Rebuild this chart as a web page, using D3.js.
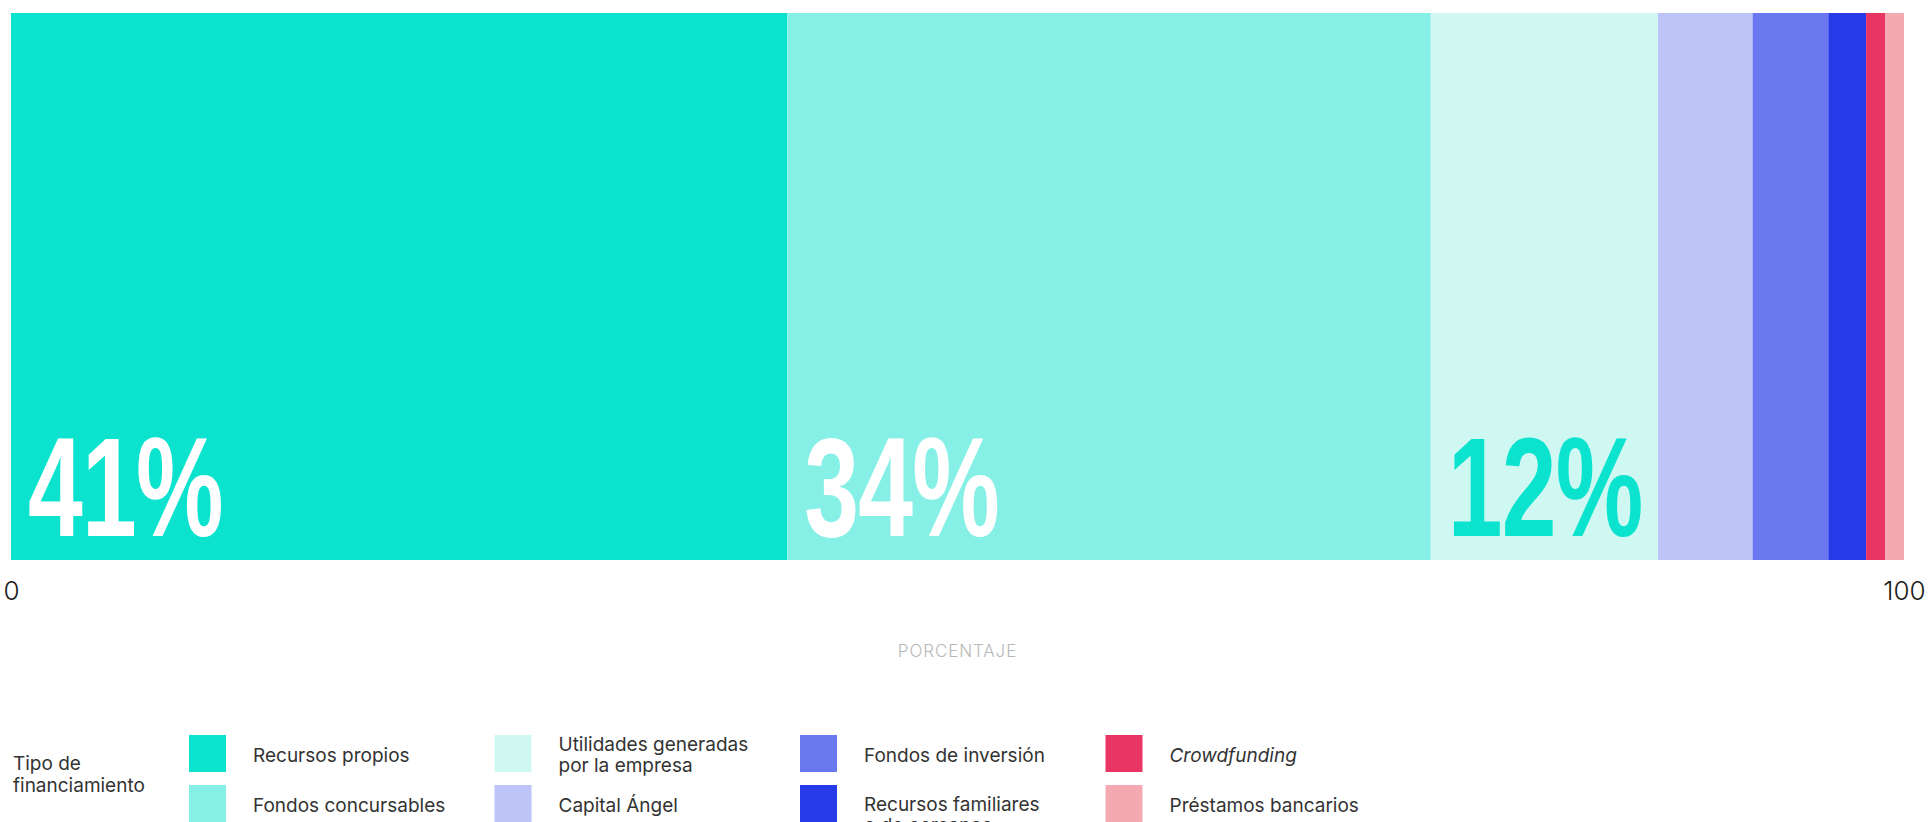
<!DOCTYPE html>
<html lang="es">
<head>
<meta charset="utf-8">
<title>Tipo de financiamiento</title>
<script src="https://cdn.jsdelivr.net/npm/d3@7"></script>
<style>
  html, body { margin: 0; padding: 0; background: #ffffff; overflow: hidden; }
  svg { display: block; }
</style>
</head>
<body>
<svg id="chart" width="1928" height="822"></svg>
<script>
// Financing sources, in stacking order
const categories = [
  "Recursos propios",
  "Fondos concursables",
  "Utilidades generadas por la empresa",
  "Capital Ángel",
  "Fondos de inversión",
  "Recursos familiares o de cercanos",
  "Crowdfunding",
  "Préstamos bancarios"
];
// Share of each source, in percent
const values = [41, 34, 12, 5, 4, 2, 1, 1];
// Legend text, broken into lines
const legendLines = [
  ["Recursos propios"],
  ["Fondos concursables"],
  ["Utilidades generadas", "por la empresa"],
  ["Capital Ángel"],
  ["Fondos de inversión"],
  ["Recursos familiares", "o de cercanos"],
  ["Crowdfunding"],
  ["Préstamos bancarios"]
];
const italicCategories = ["Crowdfunding"];
// Segments that carry a big percentage label
const labeledCategories = ["Recursos propios", "Fondos concursables", "Utilidades generadas por la empresa"];
const axisTicks = [0, 100];
const axisTitle = "PORCENTAJE";
const legendTitle = ["Tipo de", "financiamiento"];

const colors = ["#0be3cf", "#86f0e7", "#cff8f3", "#bfc4f8", "#6a78f0", "#263ae8", "#e83564", "#f4a8b2"];
const labelColors = { "Recursos propios": "#ffffff", "Fondos concursables": "#ffffff", "Utilidades generadas por la empresa": "#0be3cf" };

const svg = d3.select("#chart");
const bar = { left: 11, right: 1904, top: 13, bottom: 560 };

const x = d3.scaleLinear().domain([0, 100]).range([bar.left, bar.right]);
const color = d3.scaleOrdinal().domain(categories).range(colors);

// Cumulative stacking of the single bar
const stacked = d3.stack().keys(categories)([Object.fromEntries(categories.map((c, i) => [c, values[i]]))]);
const segments = stacked.map(s => ({ key: s.key, x0: s[0][0], x1: s[0][1], value: s[0][1] - s[0][0] }));

svg.append("g")
  .selectAll("rect")
  .data(segments)
  .join("rect")
  .attr("x", d => x(d.x0))
  .attr("y", bar.top)
  .attr("width", d => x(d.x1) - x(d.x0))
  .attr("height", bar.bottom - bar.top)
  .attr("fill", d => color(d.key));

// Big condensed percentage labels: the bold face is squeezed horizontally
// so that a two-digit label is about 195px wide.
const bigFont = "'Liberation Sans', Arial, sans-serif";
const bigSize = 141;
const probe = svg.append("text")
  .attr("font-family", bigFont).attr("font-weight", 700).attr("font-size", bigSize)
  .attr("letter-spacing", -1)
  .text("41%");
const squeeze = 195 / probe.node().getComputedTextLength();
probe.remove();

svg.append("g")
  .selectAll("text")
  .data(segments.filter(d => labeledCategories.includes(d.key)))
  .join("text")
  .attr("transform", d => `translate(${x(d.x0) + 17},${bar.bottom - 24}) scale(${squeeze},1)`)
  .attr("font-family", bigFont)
  .attr("font-weight", 700)
  .attr("font-size", bigSize)
  .attr("letter-spacing", -1)
  .attr("fill", d => labelColors[d.key])
  .text(d => `${d.value}%`);

// Axis: only the end ticks, no line
const axis = d3.axisBottom(x).tickValues(axisTicks).tickSize(0).tickPadding(0);
const axisG = svg.append("g")
  .attr("transform", `translate(0,${bar.bottom})`)
  .call(axis);
axisG.select(".domain").remove();
axisG.selectAll("text")
  .attr("dy", null)
  .attr("y", 40)
  .attr("font-family", "Inter, 'Noto Sans', sans-serif")
  .attr("font-weight", 300)
  .attr("font-size", 26)
  .attr("fill", "#1a1a1a");

svg.append("text")
  .attr("x", (bar.left + bar.right) / 2)
  .attr("y", 657)
  .attr("text-anchor", "middle")
  .attr("font-family", "Inter, 'Noto Sans', sans-serif")
  .attr("font-weight", 300)
  .attr("font-size", 17)
  .attr("letter-spacing", 0.9)
  .attr("fill", "#b8b8b8")
  .text(axisTitle);

// Legend
const legend = svg.append("g").attr("font-family", "Inter, 'Noto Sans', sans-serif").attr("fill", "#333333");

legend.append("text")
  .attr("x", 13)
  .attr("y", 770)
  .attr("font-size", 19)
  .selectAll("tspan")
  .data(legendTitle)
  .join("tspan")
  .attr("x", 13)
  .attr("dy", (d, i) => i === 0 ? 0 : 22)
  .text(d => d);

const sw = 37, colStart = 189, colStep = 305.5, rowStart = 735, rowStep = 50, textGap = 64;
const items = legend.selectAll("g.item")
  .data(categories)
  .join("g")
  .attr("class", "item")
  .attr("transform", (d, i) => `translate(${colStart + Math.floor(i / 2) * colStep},${rowStart + (i % 2) * rowStep})`);

items.append("rect")
  .attr("width", sw)
  .attr("height", sw)
  .attr("fill", d => color(d));

items.append("text")
  .attr("font-size", 19)
  .attr("font-style", d => italicCategories.includes(d) ? "italic" : "normal")
  .each(function (d, i) {
    const lines = legendLines[i];
    const firstBase = lines.length === 1 ? 27 : (i % 2 === 0 ? 16 : 26);
    d3.select(this).selectAll("tspan")
      .data(lines)
      .join("tspan")
      .attr("x", textGap)
      .attr("y", (l, j) => firstBase + j * 21)
      .text(l => l);
  });
</script>
</body>
</html>
